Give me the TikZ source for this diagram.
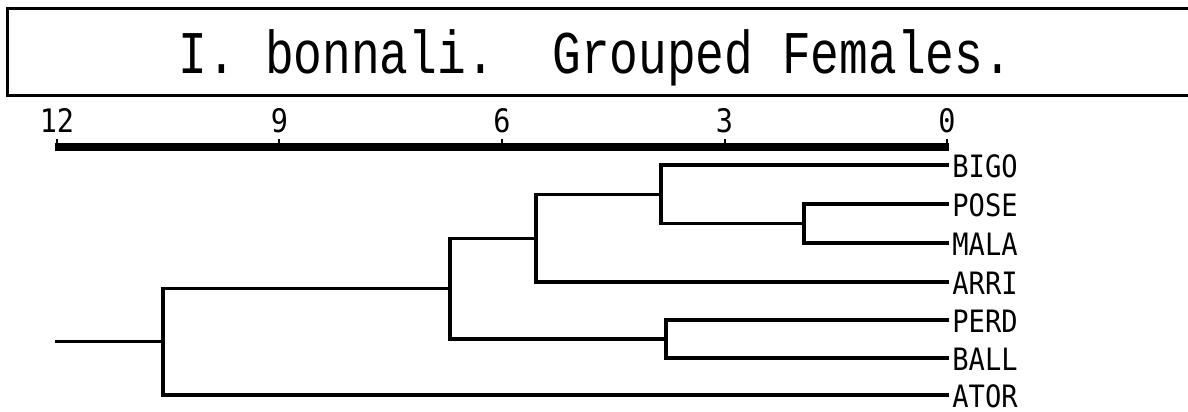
\documentclass[tikz,border=0pt]{standalone}
\usepackage{fontspec}
\newfontfamily\titlefont[FakeStretch=0.79]{Liberation Mono}
\newfontfamily\labfont[FakeStretch=0.88]{DejaVu Sans Mono}
\begin{document}
\begin{tikzpicture}[x=0.5pt,y=-0.5pt,
  tree/.style={line width=1.6pt,line join=miter,line cap=rect},
  leaflab/.style={anchor=base west,inner sep=0pt,font=\labfont\fontsize{15.4pt}{18pt}\selectfont},
  axlab/.style={anchor=base,inner sep=0pt,font=\labfont\fontsize{16.2pt}{18pt}\selectfont},
  tickmark/.style={line width=1pt},
  bar/.style={line width=4pt,line cap=butt}]
\useasboundingbox (0,0) rectangle (1188,412);
% title frame (open on the right)
\draw[line width=1.5pt,line join=miter] (1190,8) -- (7,8) -- (7,95) -- (1190,95);
\node[anchor=base,inner sep=0pt,font=\titlefont\fontsize{30.3pt}{33pt}\selectfont]
  (title) at (595.5,73) {I. bonnali.\ \ Grouped Females.};
% scale
\foreach \v/\nm in {12/a12,9/a9,6/a6,3/a3,0/a0}{
  \coordinate (\nm) at ({947-74.17*\v},147);
  \coordinate (\nm t) at ({947-74.17*\v},139);
  \draw[tickmark] (\nm) -- (\nm t);
  \node[axlab] (l\nm) at ({947-74.17*\v},132) {\v};
}
\draw[bar] ([xshift=-1]a12) -- ([xshift=1]a0);
% leaves
\foreach \n/\y in {BIGO/165,POSE/204,MALA/243,ARRI/282,PERD/320,BALL/358,ATOR/395}{
  \coordinate (e\n) at (947,\y);
  \node[leaflab] (\n) at (952,\y+12) {\n};
}
% internal nodes
\coordinate (nPM)   at (804,223.5);
\coordinate (nBPM)  at (661,194.25);
\coordinate (nA)    at (536,238.1);
\coordinate (nPB)   at (666,339);
\coordinate (nC)    at (450,288.6);
\coordinate (nR)    at (163,341.8);
\coordinate (stem)  at (57,341.8);
% connectors
\draw[tree] (ePOSE) -| (nPM) |- (eMALA);
\draw[tree] (eBIGO) -| (nBPM) |- (nPM);
\draw[tree] (nBPM) -| (nA) |- (eARRI);
\draw[tree] (ePERD) -| (nPB) |- (eBALL);
\draw[tree] (nA) -| (nC) |- (nPB);
\draw[tree] (nC) -| (nR) |- (eATOR);
\draw[tree] (stem) -- (nR);
\end{tikzpicture}
\end{document}
